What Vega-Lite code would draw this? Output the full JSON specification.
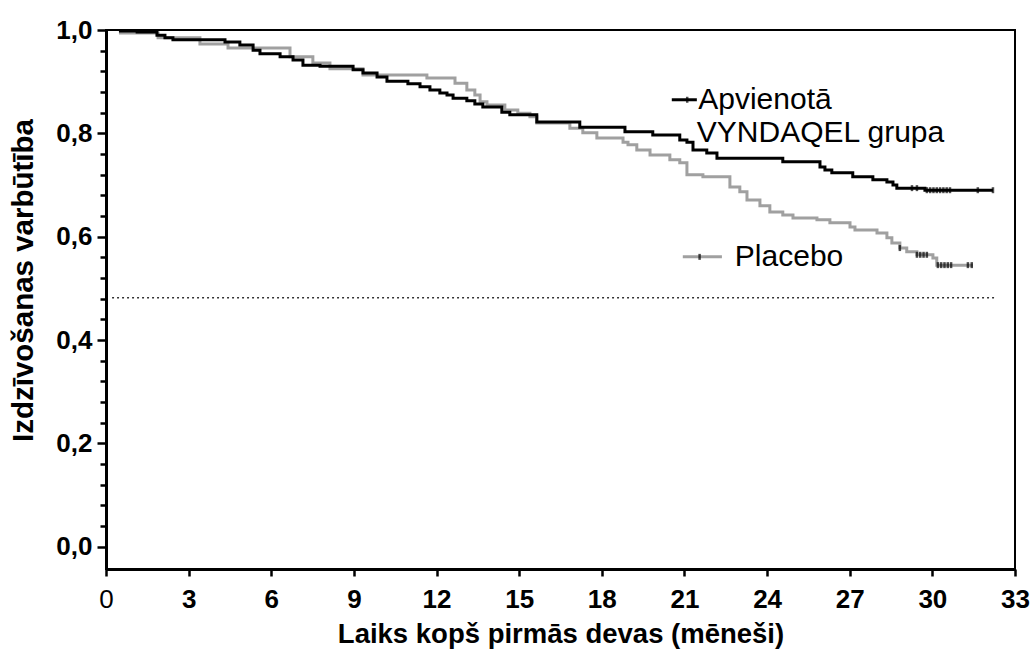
{
  "$schema": "https://vega.github.io/schema/vega-lite/v6.json",
  "width": 909,
  "height": 539,
  "autosize": "none",
  "padding": {"left": 106, "top": 30, "right": 20, "bottom": 84},
  "background": "white",
  "config": {
    "view": {"stroke": "black", "strokeWidth": 2},
    "font": "Liberation Sans"
  },
  "resolve": {"axis": {"y": "independent"}},
  "datasets": {
    "curves": [
      {"group": "Placebo", "month": 0.47, "surv": 0.994},
      {"group": "Placebo", "month": 1.89, "surv": 0.985},
      {"group": "Placebo", "month": 3.41, "surv": 0.973},
      {"group": "Placebo", "month": 4.43, "surv": 0.965},
      {"group": "Placebo", "month": 6.68, "surv": 0.948},
      {"group": "Placebo", "month": 7.51, "surv": 0.936},
      {"group": "Placebo", "month": 8.13, "surv": 0.925},
      {"group": "Placebo", "month": 9.33, "surv": 0.913},
      {"group": "Placebo", "month": 11.65, "surv": 0.907},
      {"group": "Placebo", "month": 12.67, "surv": 0.897},
      {"group": "Placebo", "month": 13.10, "surv": 0.884},
      {"group": "Placebo", "month": 13.39, "surv": 0.874},
      {"group": "Placebo", "month": 13.58, "surv": 0.861},
      {"group": "Placebo", "month": 13.83, "surv": 0.855},
      {"group": "Placebo", "month": 14.48, "surv": 0.845},
      {"group": "Placebo", "month": 14.95, "surv": 0.839},
      {"group": "Placebo", "month": 15.39, "surv": 0.832},
      {"group": "Placebo", "month": 15.64, "surv": 0.820},
      {"group": "Placebo", "month": 16.84, "surv": 0.810},
      {"group": "Placebo", "month": 17.31, "surv": 0.801},
      {"group": "Placebo", "month": 17.82, "surv": 0.791},
      {"group": "Placebo", "month": 18.77, "surv": 0.783},
      {"group": "Placebo", "month": 18.95, "surv": 0.778},
      {"group": "Placebo", "month": 19.27, "surv": 0.768},
      {"group": "Placebo", "month": 19.75, "surv": 0.758},
      {"group": "Placebo", "month": 20.47, "surv": 0.749},
      {"group": "Placebo", "month": 20.83, "surv": 0.743},
      {"group": "Placebo", "month": 21.09, "surv": 0.720},
      {"group": "Placebo", "month": 21.67, "surv": 0.716},
      {"group": "Placebo", "month": 22.65, "surv": 0.696},
      {"group": "Placebo", "month": 23.01, "surv": 0.687},
      {"group": "Placebo", "month": 23.27, "surv": 0.671},
      {"group": "Placebo", "month": 23.74, "surv": 0.660},
      {"group": "Placebo", "month": 24.10, "surv": 0.648},
      {"group": "Placebo", "month": 24.57, "surv": 0.642},
      {"group": "Placebo", "month": 24.94, "surv": 0.636},
      {"group": "Placebo", "month": 25.81, "surv": 0.633},
      {"group": "Placebo", "month": 26.28, "surv": 0.627},
      {"group": "Placebo", "month": 27.01, "surv": 0.619},
      {"group": "Placebo", "month": 27.19, "surv": 0.613},
      {"group": "Placebo", "month": 27.99, "surv": 0.607},
      {"group": "Placebo", "month": 28.35, "surv": 0.598},
      {"group": "Placebo", "month": 28.53, "surv": 0.588},
      {"group": "Placebo", "month": 28.82, "surv": 0.578},
      {"group": "Placebo", "month": 29.07, "surv": 0.571},
      {"group": "Placebo", "month": 29.44, "surv": 0.565},
      {"group": "Placebo", "month": 30.02, "surv": 0.559},
      {"group": "Placebo", "month": 30.16, "surv": 0.545},
      {"group": "Placebo", "month": 31.47, "surv": 0.545},
      {"group": "VYNDAQEL", "month": 0.47, "surv": 0.998},
      {"group": "VYNDAQEL", "month": 1.13, "surv": 0.996},
      {"group": "VYNDAQEL", "month": 1.85, "surv": 0.990},
      {"group": "VYNDAQEL", "month": 2.14, "surv": 0.985},
      {"group": "VYNDAQEL", "month": 2.43, "surv": 0.981},
      {"group": "VYNDAQEL", "month": 4.32, "surv": 0.977},
      {"group": "VYNDAQEL", "month": 4.86, "surv": 0.971},
      {"group": "VYNDAQEL", "month": 5.34, "surv": 0.961},
      {"group": "VYNDAQEL", "month": 5.59, "surv": 0.954},
      {"group": "VYNDAQEL", "month": 6.32, "surv": 0.948},
      {"group": "VYNDAQEL", "month": 6.79, "surv": 0.942},
      {"group": "VYNDAQEL", "month": 7.15, "surv": 0.932},
      {"group": "VYNDAQEL", "month": 7.77, "surv": 0.930},
      {"group": "VYNDAQEL", "month": 8.97, "surv": 0.923},
      {"group": "VYNDAQEL", "month": 9.33, "surv": 0.917},
      {"group": "VYNDAQEL", "month": 9.84, "surv": 0.909},
      {"group": "VYNDAQEL", "month": 10.20, "surv": 0.901},
      {"group": "VYNDAQEL", "month": 10.96, "surv": 0.896},
      {"group": "VYNDAQEL", "month": 11.40, "surv": 0.890},
      {"group": "VYNDAQEL", "month": 11.76, "surv": 0.884},
      {"group": "VYNDAQEL", "month": 12.12, "surv": 0.878},
      {"group": "VYNDAQEL", "month": 12.38, "surv": 0.874},
      {"group": "VYNDAQEL", "month": 12.60, "surv": 0.868},
      {"group": "VYNDAQEL", "month": 13.10, "surv": 0.863},
      {"group": "VYNDAQEL", "month": 13.39, "surv": 0.857},
      {"group": "VYNDAQEL", "month": 13.68, "surv": 0.851},
      {"group": "VYNDAQEL", "month": 14.37, "surv": 0.841},
      {"group": "VYNDAQEL", "month": 14.66, "surv": 0.836},
      {"group": "VYNDAQEL", "month": 15.64, "surv": 0.822},
      {"group": "VYNDAQEL", "month": 17.20, "surv": 0.812},
      {"group": "VYNDAQEL", "month": 18.84, "surv": 0.803},
      {"group": "VYNDAQEL", "month": 19.85, "surv": 0.797},
      {"group": "VYNDAQEL", "month": 20.83, "surv": 0.787},
      {"group": "VYNDAQEL", "month": 21.09, "surv": 0.783},
      {"group": "VYNDAQEL", "month": 21.31, "surv": 0.768},
      {"group": "VYNDAQEL", "month": 21.81, "surv": 0.762},
      {"group": "VYNDAQEL", "month": 22.18, "surv": 0.752},
      {"group": "VYNDAQEL", "month": 24.57, "surv": 0.745},
      {"group": "VYNDAQEL", "month": 25.92, "surv": 0.735},
      {"group": "VYNDAQEL", "month": 26.10, "surv": 0.729},
      {"group": "VYNDAQEL", "month": 26.35, "surv": 0.724},
      {"group": "VYNDAQEL", "month": 27.11, "surv": 0.716},
      {"group": "VYNDAQEL", "month": 27.84, "surv": 0.710},
      {"group": "VYNDAQEL", "month": 28.35, "surv": 0.706},
      {"group": "VYNDAQEL", "month": 28.57, "surv": 0.700},
      {"group": "VYNDAQEL", "month": 28.71, "surv": 0.694},
      {"group": "VYNDAQEL", "month": 29.73, "surv": 0.690},
      {"group": "VYNDAQEL", "month": 32.20, "surv": 0.690}
    ],
    "censor": [
      {"group": "VYNDAQEL", "month": 29.26, "surv": 0.694},
      {"group": "VYNDAQEL", "month": 29.44, "surv": 0.694},
      {"group": "VYNDAQEL", "month": 29.8, "surv": 0.690},
      {"group": "VYNDAQEL", "month": 29.92, "surv": 0.690},
      {"group": "VYNDAQEL", "month": 30.04, "surv": 0.690},
      {"group": "VYNDAQEL", "month": 30.16, "surv": 0.690},
      {"group": "VYNDAQEL", "month": 30.28, "surv": 0.690},
      {"group": "VYNDAQEL", "month": 30.4, "surv": 0.690},
      {"group": "VYNDAQEL", "month": 30.52, "surv": 0.690},
      {"group": "VYNDAQEL", "month": 30.64, "surv": 0.690},
      {"group": "VYNDAQEL", "month": 31.65, "surv": 0.690},
      {"group": "VYNDAQEL", "month": 32.2, "surv": 0.690},
      {"group": "Placebo", "month": 28.82, "surv": 0.578},
      {"group": "Placebo", "month": 29.44, "surv": 0.565},
      {"group": "Placebo", "month": 29.56, "surv": 0.565},
      {"group": "Placebo", "month": 29.68, "surv": 0.565},
      {"group": "Placebo", "month": 29.8, "surv": 0.565},
      {"group": "Placebo", "month": 30.2, "surv": 0.545},
      {"group": "Placebo", "month": 30.32, "surv": 0.545},
      {"group": "Placebo", "month": 30.44, "surv": 0.545},
      {"group": "Placebo", "month": 30.56, "surv": 0.545},
      {"group": "Placebo", "month": 30.68, "surv": 0.545},
      {"group": "Placebo", "month": 31.29, "surv": 0.545},
      {"group": "Placebo", "month": 31.43, "surv": 0.545},
      {"group": "VYNDAQEL", "month": 21.1, "surv": 0.865},
      {"group": "Placebo", "month": 21.55, "surv": 0.561}
    ],
    "refline": [{"month": 0.22, "month2": 32.34, "surv": 0.482}],
    "legendlines": [
      {"group": "VYNDAQEL", "month": 20.54, "month2": 21.45, "surv": 0.865},
      {"group": "Placebo", "month": 20.94, "month2": 22.36, "surv": 0.561}
    ],
    "labels": [
      {"label": "Apvienotā", "month": 21.5, "surv": 0.865},
      {"label": "VYNDAQEL grupa", "month": 21.45, "surv": 0.801},
      {"label": "Placebo", "month": 22.83, "surv": 0.561}
    ]
  },
  "layer": [
    {
      "data": {"name": "curves"},
      "mark": {"type": "line", "interpolate": "step-after", "strokeWidth": 3},
      "encoding": {
        "x": {
          "field": "month", "type": "quantitative",
          "scale": {"domain": [0, 33], "nice": false, "zero": false},
          "axis": {
            "values": [0, 3, 6, 9, 12, 15, 18, 21, 24, 27, 30, 33],
            "title": "Laiks kopš pirmās devas (mēneši)",
            "titleFont": "Liberation Sans", "titleFontSize": 27.5, "titleFontWeight": "bold", "titleColor": "black",
            "titlePadding": 8,
            "labelFont": "Liberation Sans", "labelFontSize": 26, "labelColor": "black",
            "labelFontWeight": {"condition": {"test": "datum.value === 0", "value": "normal"}, "value": "bold"},
            "labelPadding": 10, "labelFlush": false, "labelOverlap": false,
            "tickSize": 7, "tickWidth": 2.5, "tickColor": "black",
            "domainWidth": 3, "domainColor": "black", "grid": false
          }
        },
        "y": {
          "field": "surv", "type": "quantitative",
          "scale": {"domain": [-0.043, 1.0], "nice": false, "zero": false},
          "axis": {
            "orient": "left",
            "values": [0, 0.2, 0.4, 0.6, 0.8, 1.0],
            "labelExpr": "replace(format(datum.value, '.1f'), '.', ',')",
            "title": "Izdzīvošanas varbūtība",
            "titleFont": "Liberation Sans", "titleFontSize": 29.5, "titleFontWeight": "bold", "titleColor": "black",
            "titlePadding": 17, "titleY": 250,
            "labelFont": "Liberation Sans", "labelFontWeight": "bold", "labelColor": "black", "labelFontSize": 26,
            "labelPadding": 5, "labelOverlap": false, "labelFlush": false, "labelBound": false,
            "tickSize": 9, "tickWidth": 2.5, "tickColor": "black",
            "domainWidth": 3, "domainColor": "black", "grid": false
          }
        },
        "color": {
          "field": "group", "type": "nominal",
          "scale": {"domain": ["Placebo", "VYNDAQEL"], "range": ["#a0a0a0", "#000000"]},
          "legend": null
        },
        "order": {"field": "month", "type": "quantitative"}
      }
    },
    {
      "data": {"name": "refline"},
      "mark": {"type": "rule", "strokeDash": [2, 3], "strokeWidth": 1.5, "color": "#333333"},
      "encoding": {
        "x": {"field": "month", "type": "quantitative"},
        "x2": {"field": "month2"},
        "y": {
          "field": "surv", "type": "quantitative",
          "axis": {
            "orient": "left",
            "values": [0.04, 0.08, 0.12, 0.16, 0.24, 0.28, 0.32, 0.36, 0.44, 0.48, 0.52, 0.56, 0.64, 0.68, 0.72, 0.76, 0.84, 0.88, 0.92, 0.96],
            "labels": false, "domain": false, "title": null, "grid": false,
            "tickSize": 6, "tickWidth": 2.5, "tickColor": "black"
          }
        }
      }
    },
    {
      "data": {"name": "legendlines"},
      "mark": {"type": "rule", "strokeWidth": 3},
      "encoding": {
        "x": {"field": "month", "type": "quantitative"},
        "x2": {"field": "month2"},
        "y": {"field": "surv", "type": "quantitative", "axis": null},
        "color": {"field": "group", "type": "nominal", "legend": null}
      }
    },
    {
      "data": {"name": "censor"},
      "mark": {"type": "tick", "orient": "vertical", "size": 6, "thickness": 2.5, "color": "black"},
      "encoding": {
        "x": {"field": "month", "type": "quantitative"},
        "y": {"field": "surv", "type": "quantitative", "axis": null}
      }
    },
    {
      "data": {"name": "labels"},
      "mark": {"type": "text", "align": "left", "baseline": "middle", "font": "Liberation Sans", "fontSize": 30, "color": "black"},
      "encoding": {
        "x": {"field": "month", "type": "quantitative"},
        "y": {"field": "surv", "type": "quantitative", "axis": null},
        "text": {"field": "label"}
      }
    }
  ]
}
